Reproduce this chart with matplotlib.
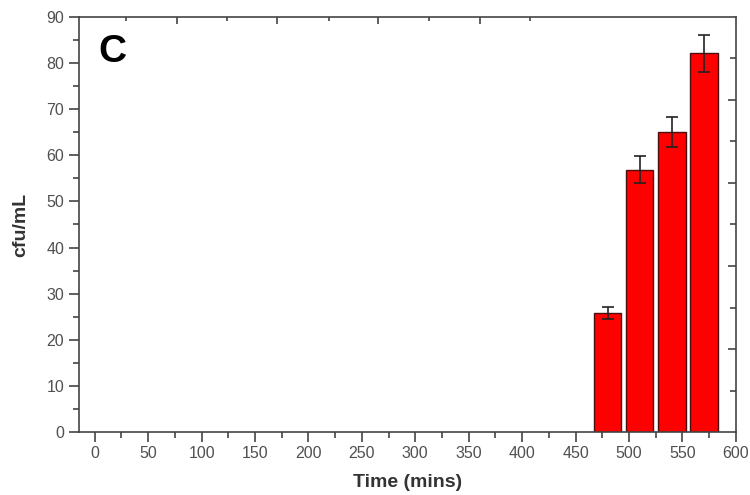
import numpy as np
import matplotlib
matplotlib.use('Agg')
import matplotlib.pyplot as plt

plt.rcParams['font.family'] = ['Liberation Sans', 'DejaVu Sans']

time_mins = [480, 510, 540, 570]
cfu = [25.8, 56.9, 65.0, 82.1]
cfu_err = [1.3, 3.0, 3.2, 4.0]

fig = plt.figure(figsize=(7.5, 4.95), dpi=100)
ax = fig.add_axes([0.105, 0.127, 0.876, 0.839])

ax.bar(time_mins, cfu, width=26, color='#ff0000', edgecolor='#4a1010', linewidth=1.0,
       yerr=cfu_err, capsize=4.5, error_kw=dict(ecolor='#222222', elinewidth=1.2, capthick=1.2),
       zorder=2)

ax.set_xlim(-15, 600)
ax.set_ylim(0, 90)
ax.set_xticks(np.arange(0, 601, 50))
ax.set_xticks(np.arange(25, 600, 50), minor=True)
ax.set_yticks(np.arange(0, 91, 10))
ax.set_yticks(np.arange(5, 90, 10), minor=True)

gray = '#444444'
for s in ax.spines.values():
    s.set_color(gray)
    s.set_linewidth(1.2)

ax.tick_params(axis='both', which='major', direction='out', length=7, width=1.2,
               color=gray, labelcolor='#505050', labelsize=11.5)
ax.tick_params(axis='x', which='major', pad=3)
ax.tick_params(axis='both', which='minor', direction='out', length=4, width=1.2, color=gray)

# mirrored axes with their own inward ticks (Origin style)
top = ax.twiny()
top.set_xlim(ax.get_xlim())
top.set_xticks([76.6, 171, 265, 361])
top.set_xticks([29.6, 124, 219, 313, 407], minor=True)
top.tick_params(axis='x', which='major', direction='in', length=5, width=1.2, color=gray, labeltop=False)
top.tick_params(axis='x', which='minor', direction='in', length=3, width=1.2, color=gray)

right = ax.twinx()
right.set_ylim(ax.get_ylim())
right.set_yticks([18, 36, 54, 72])
right.set_yticks([9, 27, 45, 63, 81], minor=True)
right.tick_params(axis='y', which='major', direction='in', length=6, width=1.2, color=gray, labelright=False)
right.tick_params(axis='y', which='minor', direction='in', length=4, width=1.2, color=gray)
for a in (top, right):
    for s in a.spines.values():
        s.set_visible(False)

ax.set_xlabel('Time (mins)', fontsize=14, fontweight='bold', color='#333333', labelpad=9)
ax.set_ylabel('cfu/mL', fontsize=14, fontweight='bold', color='#333333', labelpad=12)

ax.text(0.03, 0.915, 'C', transform=ax.transAxes, fontsize=28, fontweight='bold',
        color='black', va='center', ha='left')

fig.savefig('out.png', dpi=100)
